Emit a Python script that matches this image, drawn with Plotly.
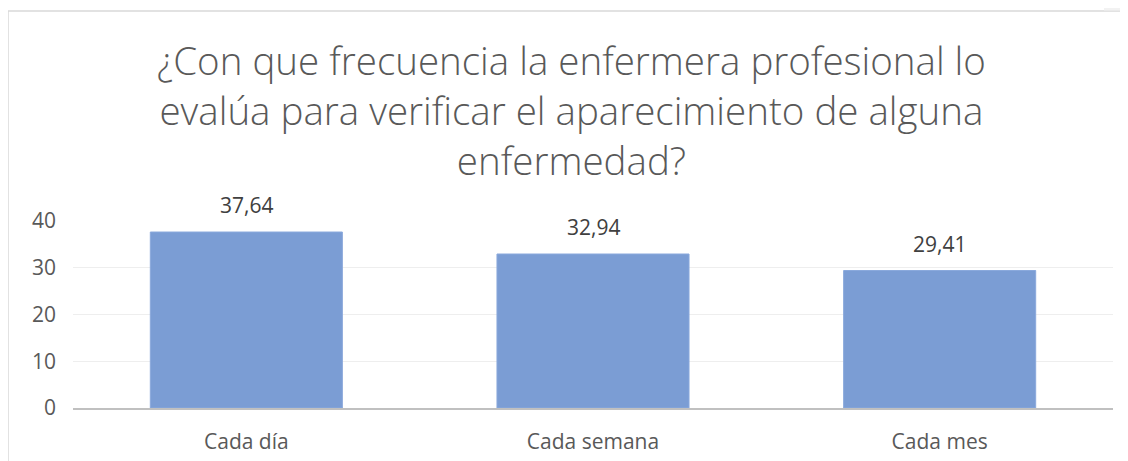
import plotly.graph_objects as go

categories = ["Cada día", "Cada semana", "Cada mes"]
values = [37.64, 32.94, 29.41]
labels = ["37,64", "32,94", "29,41"]
tick_vals = [0, 10, 20, 30, 40]
title_lines = [
    "¿Con que frecuencia la enfermera profesional lo",
    "evalúa para verificar el aparecimiento de alguna",
    "enfermedad?",
]

# page has an 8px body margin; figure coordinates = page - 8
W, H = 1120, 453
L, R, T, B = 65, 15, 213, 53
pw, ph = W - L - R, H - T - B

def px_x(x):
    return (x - L) / pw

def px_y(y):
    return (H - B - y) / ph

fig = go.Figure(go.Bar(
    x=categories, y=values,
    marker=dict(color="#7b9dd4", line=dict(color="#8aa9dc", width=1)),
    width=0.554, hoverinfo="x+y",
))

for c, v, t in zip(categories, values, labels):
    fig.add_annotation(x=c, y=v, text=t, showarrow=False, yanchor="bottom",
                       yshift=11, font=dict(size=21, color="#404040", family="Open Sans"))

fig.add_annotation(xref="paper", yref="paper", x=px_x(563), y=px_y(24),
                   xanchor="center", yanchor="top", text="<br>".join(title_lines),
                   showarrow=False, align="center",
                   font=dict(family="Open Sans", size=38.5, color="#595959", weight=300))

fig.update_layout(
    width=W, height=H,
    margin=dict(l=L, r=R, t=T, b=B, autoexpand=False),
    paper_bgcolor="white", plot_bgcolor="white",
    showlegend=False,
    xaxis=dict(
        showgrid=False, showline=True, linecolor="#c0c0c0", linewidth=2,
        ticks="", tickfont=dict(size=21, color="#595959", family="Open Sans"),
        ticklabelstandoff=14, automargin=False,
    ),
    yaxis=dict(
        range=[0, 40], tickvals=tick_vals, showgrid=True, gridcolor="#eeeeee", gridwidth=1,
        zeroline=False, showline=False, ticks="",
        tickfont=dict(size=21, color="#595959", family="Open Sans"),
        ticklabelstandoff=16, automargin=False,
    ),
)

# chart border
fig.add_shape(type="rect", xref="paper", yref="paper",
              x0=px_x(0), x1=px_x(1140), y0=px_y(470), y1=px_y(3),
              line=dict(color="#d9d9d9", width=1.5), fillcolor="rgba(0,0,0,0)", layer="below")
fig.add_shape(type="rect", xref="paper", yref="paper",
              x0=px_x(1096), x1=px_x(1125), y0=px_y(2.5), y1=px_y(-2),
              line=dict(width=0), fillcolor="#f2f2f2", layer="below")

fig.write_html("out.html")
